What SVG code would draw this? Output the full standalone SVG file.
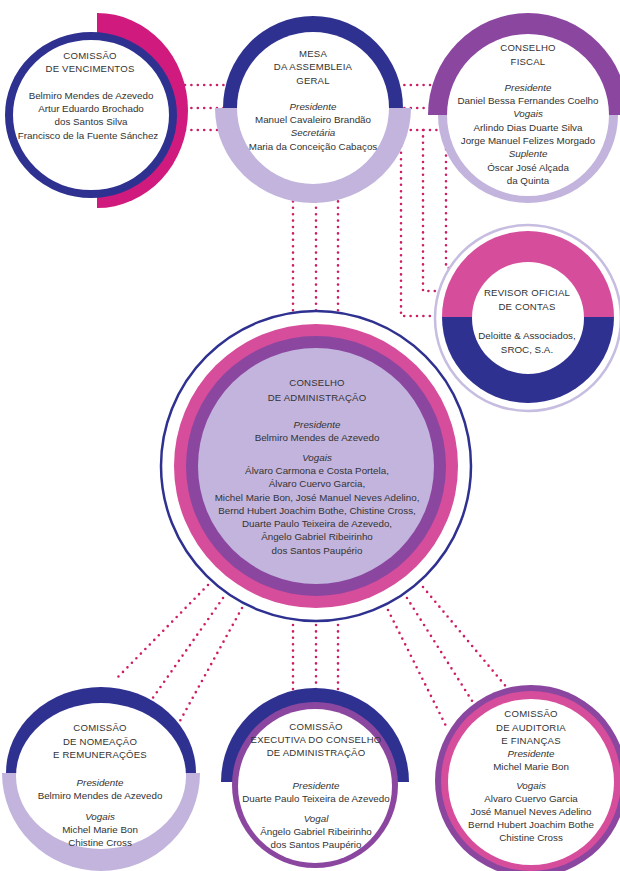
<svg xmlns="http://www.w3.org/2000/svg" width="620" height="871" viewBox="0 0 620 871">
<style>
.t{font-family:"Liberation Sans",Arial,sans-serif;font-size:9.8px;fill:#333;text-anchor:middle}
.h{font-size:9.6px;letter-spacing:0.2px}
.i{font-style:italic}
.dot{fill:none;stroke:#cf1d64;stroke-width:2.6;stroke-linecap:round;stroke-dasharray:0 6.4}
.blue{fill:#2f3190}
.mag{fill:#d01a7e}
.pink{fill:#d64d9c}
.pur{fill:#8b46a0}
.lav{fill:#c2b4dc}
.wh{fill:#fff}
</style>
<rect width="620" height="871" fill="#fff"/>
<g id="connectors">
  <line class="dot" x1="185" y1="85" x2="230" y2="85"/>
  <line class="dot" x1="185" y1="108" x2="230" y2="108"/>
  <line class="dot" x1="185" y1="130" x2="230" y2="130"/>
  <line class="dot" x1="398" y1="85" x2="436" y2="85"/>
  <line class="dot" x1="398" y1="108" x2="436" y2="108"/>
  <line class="dot" x1="398" y1="130" x2="440" y2="130"/>
  <polyline class="dot" points="401,140 401,316 438,316"/>
  <polyline class="dot" points="423,130 423,291 441,291"/>
  <polyline class="dot" points="446,130 446,268 452,268"/>
  <line class="dot" x1="293" y1="195" x2="293" y2="315"/>
  <line class="dot" x1="316" y1="195" x2="316" y2="315"/>
  <line class="dot" x1="338" y1="195" x2="338" y2="315"/>
  <line class="dot" x1="293" y1="625" x2="293" y2="692"/>
  <line class="dot" x1="316" y1="625" x2="316" y2="692"/>
  <line class="dot" x1="338" y1="625" x2="338" y2="692"/>
  <line class="dot" x1="208" y1="585" x2="118" y2="677"/>
  <line class="dot" x1="223" y1="598" x2="150" y2="702"/>
  <line class="dot" x1="242" y1="608" x2="175" y2="730"/>
  <line class="dot" x1="388" y1="610" x2="448" y2="730"/>
  <line class="dot" x1="407" y1="598" x2="474" y2="704"/>
  <line class="dot" x1="423" y1="587" x2="508" y2="689"/>
</g>
<g id="comissao-vencimentos">
  <path class="mag" d="M97,13 A91,97.5 0 0 1 97,208 Z"/>
  <ellipse cx="91" cy="115" rx="82" ry="79" fill="#fff" stroke="#2f3190" stroke-width="8"/>
  <text class="t h" x="90" y="58.5">COMISSÃO</text>
  <text class="t h" x="90" y="72">DE VENCIMENTOS</text>
  <text class="t" x="91" y="99">Belmiro Mendes de Azevedo</text>
  <text class="t" x="91" y="112">Artur Eduardo Brochado</text>
  <text class="t" x="91" y="125">dos Santos Silva</text>
  <text class="t" x="88" y="138.5">Francisco de la Fuente Sánchez</text>
</g>
<g id="mesa-assembleia">
  <path class="lav" d="M215,108 A98,95 0 0 0 411,108 Z"/>
  <path class="blue" d="M223,108 A90,92 0 0 1 403,108 Z"/>
  <circle class="wh" cx="313" cy="108" r="76"/>
  <text class="t h" x="313" y="57">MESA</text>
  <text class="t h" x="313" y="70">DA ASSEMBLEIA</text>
  <text class="t h" x="313" y="83.5">GERAL</text>
  <text class="t i" x="313" y="110">Presidente</text>
  <text class="t" x="313" y="123">Manuel Cavaleiro Brandão</text>
  <text class="t i" x="313" y="136">Secretária</text>
  <text class="t" x="313" y="149.5">Maria da Conceição Cabaços</text>
</g>
<g id="conselho-fiscal">
  <path class="pur" d="M428,115 A100,102 0 0 1 628,115 Z"/>
  <path class="lav" d="M438,115 A90,88 0 0 0 618,115 Z"/>
  <circle class="wh" cx="528" cy="115" r="81"/>
  <text class="t h" x="528" y="50.5">CONSELHO</text>
  <text class="t h" x="528" y="64.5">FISCAL</text>
  <text class="t i" x="528" y="90.5">Presidente</text>
  <text class="t" x="528" y="103.5">Daniel Bessa Fernandes Coelho</text>
  <text class="t i" x="528" y="116.5">Vogais</text>
  <text class="t" x="528" y="130.5">Arlindo Dias Duarte Silva</text>
  <text class="t" x="528" y="143.5">Jorge Manuel Felizes Morgado</text>
  <text class="t i" x="528" y="156.5">Suplente</text>
  <text class="t" x="528" y="170.5">Óscar José Alçada</text>
  <text class="t" x="528" y="183.5">da Quinta</text>
</g>
<g id="revisor-oficial">
  <circle cx="528" cy="318" r="93" fill="#fff" stroke="#c6bde0" stroke-width="2.5"/>
  <path class="pink" d="M442,317 A86,86 0 0 1 614,317 Z"/>
  <path class="blue" d="M442,317 A86,86 0 0 0 614,317 Z"/>
  <circle class="wh" cx="528" cy="318" r="56"/>
  <text class="t h" x="527" y="295.5">REVISOR OFICIAL</text>
  <text class="t h" x="527" y="309.5">DE CONTAS</text>
  <text class="t" x="527" y="338.5">Deloitte &amp; Associados,</text>
  <text class="t" x="527" y="352.5">SROC, S.A.</text>
</g>
<g id="conselho-administracao">
  <circle cx="316" cy="466" r="155" fill="#fff" stroke="#2f3190" stroke-width="2.5"/>
  <circle class="pink" cx="316" cy="466" r="142"/>
  <circle class="pur" cx="316" cy="466" r="130"/>
  <circle class="lav" cx="316" cy="466" r="118"/>
  <text class="t h" x="317" y="385.5">CONSELHO</text>
  <text class="t h" x="317" y="400.5">DE ADMINISTRAÇÃO</text>
  <text class="t i" x="317" y="427.5">Presidente</text>
  <text class="t" x="317" y="440.5">Belmiro Mendes de Azevedo</text>
  <text class="t i" x="317" y="460.5">Vogais</text>
  <text class="t" x="317" y="474">Álvaro Carmona e Costa Portela,</text>
  <text class="t" x="317" y="487">Álvaro Cuervo Garcia,</text>
  <text class="t" x="317" y="500.5">Michel Marie Bon, José Manuel Neves Adelino,</text>
  <text class="t" x="317" y="513.5">Bernd Hubert Joachim Bothe, Chistine Cross,</text>
  <text class="t" x="317" y="526.5">Duarte Paulo Teixeira de Azevedo,</text>
  <text class="t" x="317" y="540">Ângelo Gabriel Ribeirinho</text>
  <text class="t" x="317" y="553.5">dos Santos Paupério</text>
</g>
<g id="comissao-nomeacao">
  <path class="lav" d="M2,773 A99,98 0 0 0 200,773 Z"/>
  <path class="blue" d="M6,773 A95,86 0 0 1 196,773 Z"/>
  <ellipse class="wh" cx="101" cy="776" rx="85" ry="73"/>
  <text class="t h" x="100" y="731">COMISSÃO</text>
  <text class="t h" x="100" y="744.5">DE NOMEAÇÃO</text>
  <text class="t h" x="100" y="758">E REMUNERAÇÕES</text>
  <text class="t i" x="100" y="786">Presidente</text>
  <text class="t" x="100" y="799">Belmiro Mendes de Azevedo</text>
  <text class="t i" x="100" y="820">Vogais</text>
  <text class="t" x="100" y="833">Michel Marie Bon</text>
  <text class="t" x="100" y="846">Chistine Cross</text>
</g>
<g id="comissao-executiva">
  <path class="blue" d="M221,782 A94,94 0 0 1 409,782 Z"/>
  <circle class="pur" cx="315" cy="785" r="83"/>
  <circle class="wh" cx="315" cy="786" r="77"/>
  <text class="t h" x="316" y="729.5">COMISSÃO</text>
  <text class="t h" x="316" y="742.5">EXECUTIVA DO CONSELHO</text>
  <text class="t h" x="316" y="755.5">DE ADMINISTRAÇÃO</text>
  <text class="t i" x="316" y="788.5">Presidente</text>
  <text class="t" x="316" y="801.5">Duarte Paulo Teixeira de Azevedo</text>
  <text class="t i" x="316" y="821.5">Vogal</text>
  <text class="t" x="316" y="834.5">Ângelo Gabriel Ribeirinho</text>
  <text class="t" x="316" y="848">dos Santos Paupério</text>
</g>
<g id="comissao-auditoria">
  <circle class="pur" cx="531" cy="781" r="96"/>
  <circle class="pink" cx="531" cy="781" r="90"/>
  <circle class="wh" cx="531" cy="782" r="83"/>
  <text class="t h" x="531" y="716.5">COMISSÃO</text>
  <text class="t h" x="531" y="730.5">DE AUDITORIA</text>
  <text class="t h" x="531" y="743.5">E FINANÇAS</text>
  <text class="t i" x="531" y="756.5">Presidente</text>
  <text class="t" x="531" y="769.5">Michel Marie Bon</text>
  <text class="t i" x="531" y="788.5">Vogais</text>
  <text class="t" x="531" y="801.5">Alvaro Cuervo Garcia</text>
  <text class="t" x="531" y="814.5">José Manuel Neves Adelino</text>
  <text class="t" x="531" y="827.5">Bernd Hubert Joachim Bothe</text>
  <text class="t" x="531" y="841">Chistine Cross</text>
</g>
</svg>
